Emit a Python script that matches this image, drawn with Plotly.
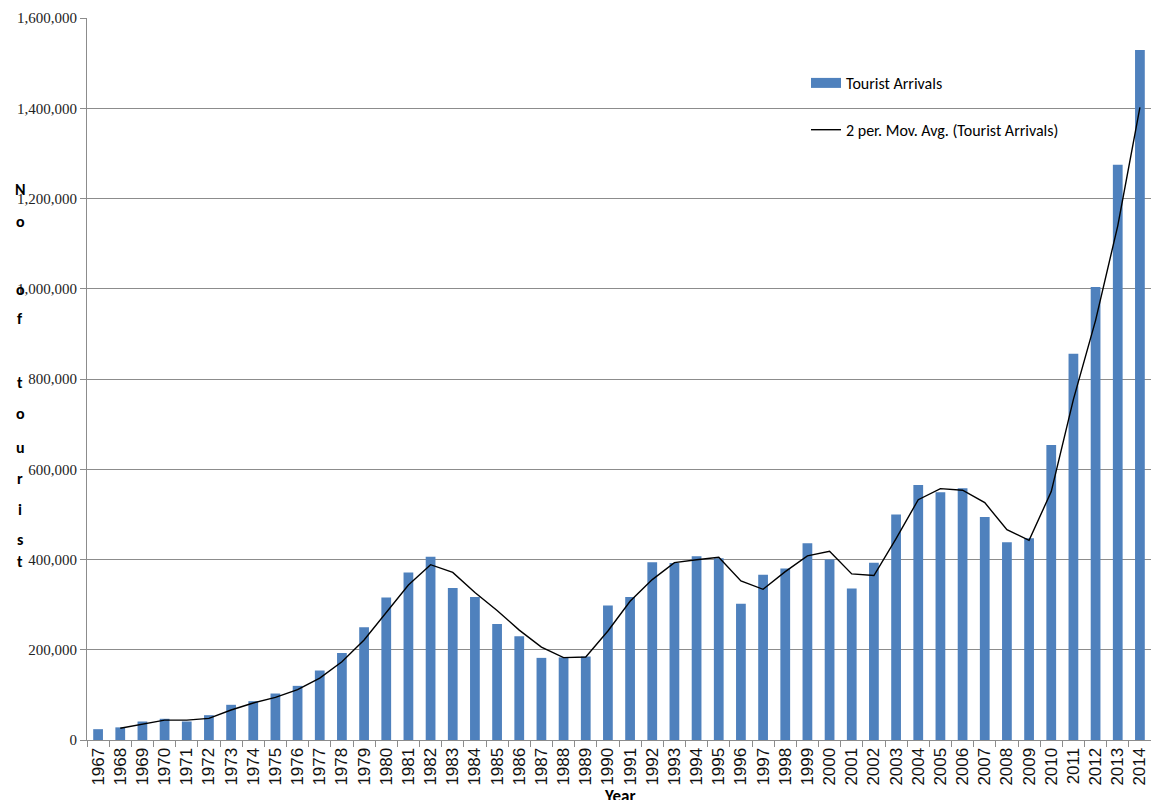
import plotly.graph_objects as go
import pandas as pd

years = [str(y) for y in range(1967, 2015)]
arrivals = [
    24000, 28000, 41000, 47000, 41000, 55000, 78000, 86000, 103000, 120000,
    154000, 193000, 250000, 316000, 371000, 406000, 337000, 317000, 257000, 230000,
    182000, 183000, 185000, 298000, 317000, 394000, 392000, 407000, 403000, 302000,
    366000, 380000, 436000, 400000, 336000, 393000, 500000, 565000, 549000, 558000,
    494000, 438000, 447000, 654000, 856000, 1004000, 1275000, 1529000,
]
y_ticks = [0, 200000, 400000, 600000, 800000, 1000000, 1200000, 1400000, 1600000]
y_title_letters = ["N", "o", "o", "f", "t", "o", "u", "r", "i", "s", "t"]
y_title_pix = [190, 222, 289, 318, 382, 413, 447, 478, 510, 539, 561]

# Excel "2 per. Mov. Avg." trendline of the series
mov_avg = pd.Series(arrivals).rolling(2).mean().tolist()

W, H = 1151, 800
ML, MR, MT, MB = 87, 0, 18, 60
plot_h = H - MT - MB
plot_w = W - ML - MR
BLUE = "#4F81BD"

fig = go.Figure()
fig.add_trace(go.Bar(
    x=years, y=arrivals, name="Tourist Arrivals",
    marker=dict(color=BLUE, line=dict(width=0)),
    showlegend=False,
))
# legend entry drawn as a wide block like the Excel legend key
fig.add_trace(go.Scatter(
    x=[None], y=[None], mode="lines", name="Tourist Arrivals",
    line=dict(color=BLUE, width=12), legendgroup="a", hoverinfo="skip",
))
fig.add_trace(go.Scatter(
    x=years, y=mov_avg, mode="lines", name="2 per. Mov. Avg. (Tourist Arrivals)",
    line=dict(color="#000000", width=1.4),
    legendgroup="b", connectgaps=False,
))

annotations = []
for letter, py in zip(y_title_letters, y_title_pix):
    annotations.append(dict(
        text=f"<b>{letter}</b>", xref="paper", yref="paper",
        x=(20 - ML) / plot_w, y=(H - MB - py) / plot_h,
        xanchor="center", yanchor="middle", showarrow=False,
        font=dict(family="Carlito, Open Sans, Liberation Sans", size=16, color="#000"),
    ))
annotations.append(dict(
    text="<b>Year</b>", xref="paper", yref="paper",
    x=0.5, y=(H - MB - 784) / plot_h, xanchor="center", yanchor="top",
    showarrow=False,
    font=dict(family="Carlito, Open Sans, Liberation Sans", size=17, color="#000"),
))

fig.update_layout(
    width=W, height=H,
    margin=dict(l=ML, r=MR, t=MT, b=MB, pad=0),
    paper_bgcolor="white", plot_bgcolor="white",
    bargap=0.56,
    showlegend=True,
    legend=dict(
        x=(806 - ML) / plot_w, y=(H - MB - 66) / plot_h,
        xanchor="left", yanchor="top",
        bgcolor="rgba(0,0,0,0)", borderwidth=0,
        font=dict(family="Carlito, Liberation Sans Narrow, Open Sans", size=16, color="#000"),
        traceorder="grouped", tracegroupgap=23, itemwidth=30,
    ),
    annotations=annotations,
    xaxis=dict(
        type="category", tickangle=-90,
        tickfont=dict(family="Liberation Sans, Arial", size=17, color="#111"),
        showline=True, linecolor="#8c8c8c", linewidth=1,
        ticks="outside", tickson="boundaries", ticklen=6, tickcolor="#8c8c8c",
        showgrid=False, zeroline=False,
    ),
    yaxis=dict(
        range=[0, 1600000], tickvals=y_ticks,
        ticktext=[f"{v:,}" for v in y_ticks],
        tickfont=dict(family="Liberation Serif, Times New Roman", size=15, color="#222"),
        showline=True, linecolor="#8c8c8c", linewidth=1,
        ticks="outside", ticklen=6, tickcolor="#8c8c8c",
        showgrid=True, gridcolor="#8c8c8c", gridwidth=1,
        zeroline=False,
    ),
)

fig.write_html("out.html")
